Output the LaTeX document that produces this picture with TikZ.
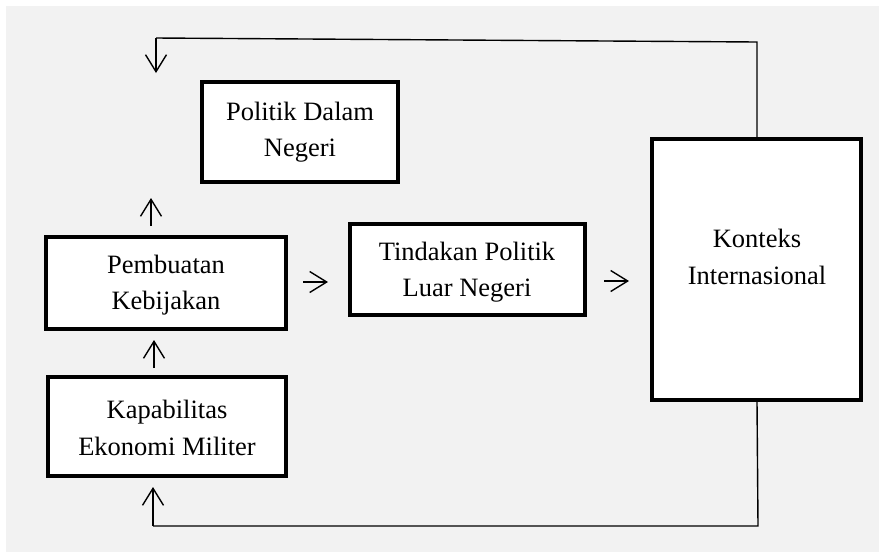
\documentclass[tikz,border=0pt]{standalone}
\usepackage{fontspec}
\setmainfont{Liberation Serif}
\usetikzlibrary{arrows.meta}
\tikzset{
  boxstyle/.style={draw=black, line width=4.5pt, fill=white},
  txt/.style={align=center, font=\fontsize{26.5}{36.5}\selectfont, inner sep=0pt},
  feed/.style={line width=1.4pt, draw=black},
  tip/.style={line width=1.4pt, -{Straight Barb[length=17pt,width=21pt,line width=1.4pt]}}
}
\begin{document}
\begin{tikzpicture}[x=1pt,y=-1pt]
\useasboundingbox (0,0) rectangle (885,558);
\fill[white] (0,0) rectangle (885,558);
\fill[black!5] (6,6) rectangle (879,552);
% boxes
\draw[boxstyle] (202,82) rectangle (398,182);
\node[txt] (pdn) at (300,132) {Politik Dalam\\Negeri};
\draw[boxstyle] (46,237) rectangle (286,329);
\node[txt] (pk) at (166,285) {Pembuatan\\Kebijakan};
\draw[boxstyle] (350,224) rectangle (585,315);
\node[txt] (tpl) at (467,272) {Tindakan Politik\\Luar Negeri};
\draw[boxstyle] (652,139) rectangle (861,400);
\node[txt] (ki) at (757,257) {Konteks\\Internasional};
\draw[boxstyle] (48,377) rectangle (286,476);
\node[txt] (kem) at (167,428) {Kapabilitas\\Ekonomi Militer};
% coordinates
\coordinate (kitop) at (757,137);
\coordinate (t1) at (757,42);
\coordinate (t2) at (156,38);
\coordinate (t3) at (156,73);
\coordinate (kibot) at (757,402);
\coordinate (b1) at (758,526);
\coordinate (b2) at (153,526);
\coordinate (b3) at (153,487);
\draw[feed] (kitop) -- (t1) -- (t2);
\draw[tip] (t2) -- (t3);
\draw[feed] (kibot) -- (b1) -- (b2);
\draw[tip] (b2) -- (b3);
% small arrows
\coordinate (a1s) at (151,226);
\coordinate (a1e) at (151,198);
\coordinate (a2s) at (154,368);
\coordinate (a2e) at (154,340);
\coordinate (a3s) at (303,282);
\coordinate (a3e) at (328,282);
\coordinate (a4s) at (604,281);
\coordinate (a4e) at (629,281);
\draw[tip] (a1s) -- (a1e);
\draw[tip] (a2s) -- (a2e);
\draw[tip] (a3s) -- (a3e);
\draw[tip] (a4s) -- (a4e);
\end{tikzpicture}
\end{document}
